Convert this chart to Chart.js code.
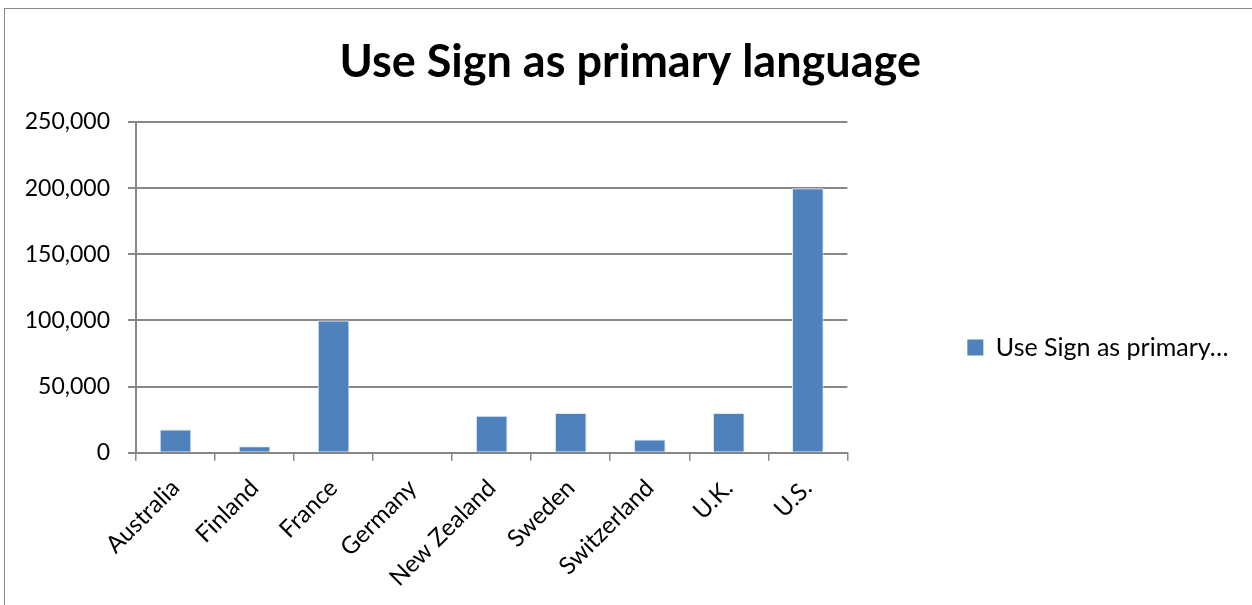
<!DOCTYPE html>
<html>
<head>
<meta charset="utf-8">
<title>Use Sign as primary language</title>
<script src="https://cdn.jsdelivr.net/npm/chart.js@4"></script>
<style>
  html, body { margin: 0; padding: 0; background: #fff; }
  #wrap { position: relative; width: 1252px; height: 605px; overflow: hidden; }
  #frame {
    position: absolute; left: 4px; top: 8px; width: 1260px; height: 620px;
    border: 1.5px solid #8a8a8a; box-sizing: border-box; pointer-events: none;
  }
  canvas { position: absolute; left: 0; top: 0; }
</style>
</head>
<body>
<div id="wrap">
  <canvas id="signChart" width="1252" height="605"></canvas>
  <div id="frame"></div>
</div>
<script>
// --- Data ---
const countries = ["Australia", "Finland", "France", "Germany", "New Zealand",
                   "Sweden", "Switzerland", "U.K.", "U.S."];
const signUsers = [17500, 5000, 100000, 0, 28000, 30000, 10000, 30000, 200000];
const seriesName = "Use Sign as primary language";
const legendText = "Use Sign as primary…";
const yTicks = [0, 50000, 100000, 150000, 200000, 250000];

const FONT = "Lato, 'Open Sans', sans-serif";
const GRID = "#878787";
const BAR = "#4f81bd";
const PAD_LEFT = 22;
const Y_AXIS_WIDTH = 136 - PAD_LEFT; // plot area starts at 136px

new Chart(document.getElementById("signChart"), {
  type: "bar",
  data: {
    labels: countries,
    datasets: [{
      label: seriesName,
      data: signUsers,
      backgroundColor: BAR,
      borderColor: "#dfe7f2",
      borderWidth: { top: 1, left: 1, right: 1, bottom: 0 },
      barPercentage: 0.4,
      categoryPercentage: 1.0
    }]
  },
  options: {
    responsive: false,
    animation: false,
    layout: { padding: { left: PAD_LEFT, right: 13.5, top: 0, bottom: 0 } },
    scales: {
      x: {
        grid: { drawOnChartArea: false, drawTicks: true, tickLength: 8, color: GRID, lineWidth: 1.5 },
        border: { color: GRID, width: 2 },
        ticks: {
          color: "#000",
          font: { family: FONT, size: 24 },
          minRotation: 45,
          maxRotation: 45,
          padding: 13
        }
      },
      y: {
        min: 0,
        max: 250000,
        afterBuildTicks: (axis) => { axis.ticks = yTicks.map(v => ({ value: v })); },
        afterFit: (axis) => { axis.width = Y_AXIS_WIDTH; },
        grid: { color: GRID, lineWidth: 2, tickLength: 8 },
        border: { color: GRID, width: 2 },
        ticks: {
          color: "#000",
          font: { family: FONT, size: 23 },
          padding: 18,
          callback: (v) => v.toLocaleString("en-US")
        }
      }
    },
    plugins: {
      title: {
        display: true,
        text: seriesName,
        color: "#000",
        font: { family: FONT, size: 45, weight: "bold" },
        padding: { top: 35, bottom: 33 }
      },
      legend: {
        position: "right",
        maxWidth: 420,
        title: { display: true, text: " ", padding: { top: 40, bottom: 26 }, font: { size: 20 } },
        labels: {
          color: "#000",
          font: { family: FONT, size: 25 },
          boxWidth: 16,
          boxHeight: 16,
          padding: 120,
          generateLabels: (chart) =>
            Chart.defaults.plugins.legend.labels.generateLabels(chart).map(item => {
              item.text = legendText;
              item.lineWidth = 0;
              return item;
            })
        }
      },
      tooltip: { enabled: false }
    }
  }
});
</script>
</body>
</html>
